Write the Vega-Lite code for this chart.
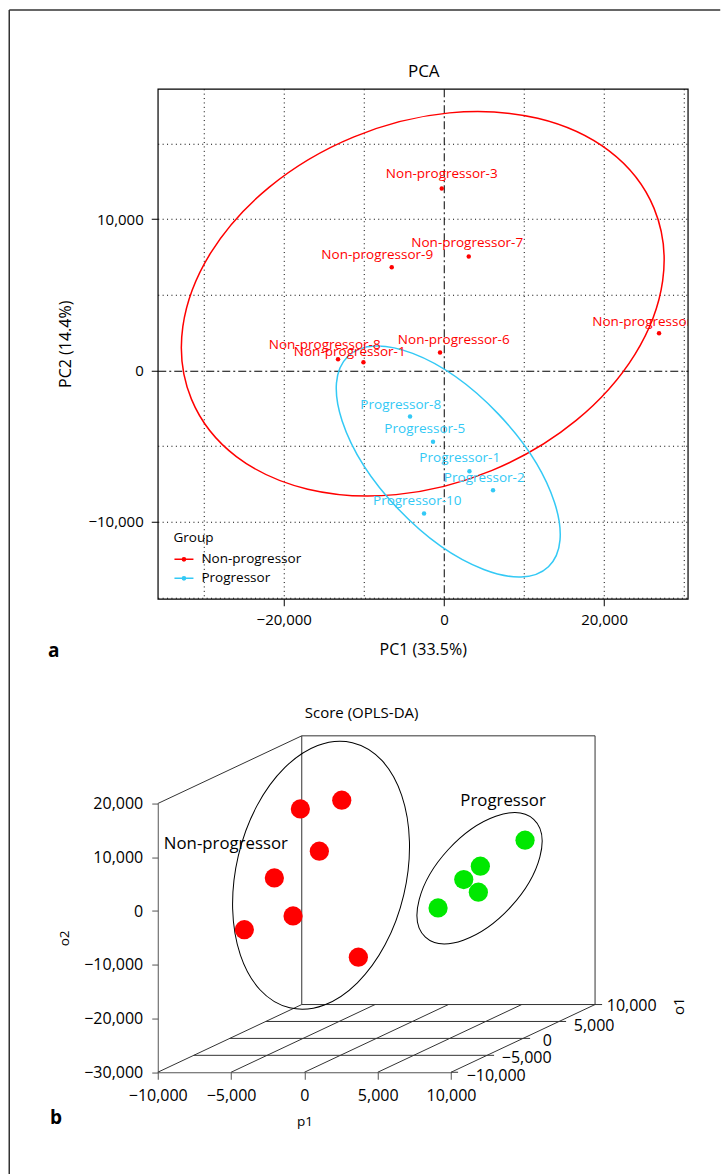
{
  "$schema": "https://vega.github.io/schema/vega-lite/v6.json",
  "background": "white",
  "padding": {"left": 7.75, "top": 7.75, "right": 0, "bottom": 0},
  "bounds": "flush",
  "spacing": 204.8,
  "resolve": {"scale": {"x": "independent", "y": "independent", "color": "independent"}},
  "config": {
    "font": "Open Sans",
    "view": {"stroke": null},
    "axis": {"labelColor": "#000", "titleColor": "#000", "titleFontWeight": "normal", "labelFont": "Open Sans", "titleFont": "Open Sans"},
    "legend": {"labelFont": "Open Sans", "titleFont": "Open Sans"}
  },
  "vconcat": [
    {
      "width": 530,
      "height": 510,
      "view": {"stroke": "#000", "strokeWidth": 1.2},
      "encoding": {
        "x": {"field": "x", "type": "quantitative", "scale": {"domain": [-35730, 30440], "nice": false, "zero": false},
          "axis": {"title": "PC1 (33.5%)", "values": [-30000, -20000, -10000, 0, 10000, 20000, 30000],
            "labelExpr": "datum.value % 20000 === 0 ? format(datum.value, ',') : ''",
            "tickOpacity": {"condition": {"test": "datum.value % 20000 === 0", "value": 1}, "value": 0},
            "grid": true, "gridColor": "#000", "gridOpacity": 1, "gridWidth": 1,
            "gridDash": {"condition": {"test": "datum.value === 0", "value": [8, 3, 2, 3]}, "value": [1, 3.4]},
            "domain": false, "tickColor": "#000", "tickSize": 7, "labelFontSize": 15, "labelPadding": 7,
            "labelFlush": false, "labelOverlap": false, "titleFontSize": 16, "titlePadding": 14}},
        "y": {"field": "y", "type": "quantitative", "scale": {"domain": [-15090, 18620], "nice": false, "zero": false},
          "axis": {"title": "PC2 (14.4%)", "values": [-15000, -10000, -5000, 0, 5000, 10000, 15000],
            "labelExpr": "datum.value % 10000 === 0 ? format(datum.value, ',') : ''",
            "tickOpacity": {"condition": {"test": "datum.value % 10000 === 0", "value": 1}, "value": 0},
            "grid": true, "gridColor": "#000", "gridOpacity": 1, "gridWidth": 1,
            "gridDash": {"condition": {"test": "datum.value === 0", "value": [8, 3, 2, 3]}, "value": [1, 3.4]},
            "domain": false, "tickColor": "#000", "tickSize": 6.5, "labelFontSize": 15, "labelPadding": 8,
            "labelOverlap": false, "titleFontSize": 16, "titlePadding": 14}}
      },
      "layer": [
        {
          "data": {"values": [{"group": "Non-progressor", "x": -2646, "y": 4409}]},
          "mark": {"type": "point", "shape": "M1,0C1,0.3984,0.5523,0.7214,0,0.7214C-0.5523,0.7214,-1,0.3984,-1,0C-1,-0.3984,-0.5523,-0.7214,0,-0.7214C0.5523,-0.7214,1,-0.3984,1,0Z", "size": 250400, "angle": -22.4, "filled": false, "strokeWidth": 1.5, "opacity": 1},
          "encoding": {
            "color": {"field": "group", "type": "nominal",
              "scale": {"domain": ["Non-progressor", "Progressor"], "range": ["#ff0000", "#33c9f5"]},
              "legend": {"title": "Group", "orient": "none", "legendX": 10.7, "legendY": 437.6, "padding": 5,
                "symbolType": "M-1,0L1,0M0.168,0C0.168,0.0928,0.0928,0.168,0,0.168C-0.0928,0.168,-0.168,0.0928,-0.168,0C-0.168,-0.0928,-0.0928,-0.168,0,-0.168C0.0928,-0.168,0.168,-0.0928,0.168,0Z",
                "symbolSize": 361, "symbolStrokeWidth": 1.5, "labelFontSize": 13.5, "titleFontSize": 13.5,
                "titleFontWeight": "normal", "titlePadding": 4, "labelOffset": 7, "rowPadding": 2,
                "labelColor": "#000", "titleColor": "#000"}}
          }
        },
        {
          "data": {"values": [{"group": "Progressor", "x": 538, "y": -6015}]},
          "mark": {"type": "point", "shape": "M1,0C1,0.2623,0.5523,0.4749,0,0.4749C-0.5523,0.4749,-1,0.2623,-1,0C-1,-0.2623,-0.5523,-0.4749,0,-0.4749C0.5523,-0.4749,1,-0.2623,1,0Z", "size": 84450, "angle": 46.4, "filled": false, "strokeWidth": 1.5, "opacity": 1},
          "encoding": {
            "color": {"field": "group", "type": "nominal", "scale": {"domain": ["Non-progressor", "Progressor"], "range": ["#ff0000", "#33c9f5"]}, "legend": null}
          }
        },
        {
          "data": {"values": [
            {"group": "Non-progressor", "name": "Non-progressor-3", "x": -273, "y": 12030},
            {"group": "Non-progressor", "name": "Non-progressor-7", "x": 3098, "y": 7535},
            {"group": "Non-progressor", "name": "Non-progressor-9", "x": -6517, "y": 6828},
            {"group": "Non-progressor", "name": "Non-progressor-6", "x": -486, "y": 1190},
            {"group": "Non-progressor", "name": "Non-progressor-8", "x": -13221, "y": 747},
            {"group": "Non-progressor", "name": "Non-progressor-1", "x": -10049, "y": 549},
            {"group": "Non-progressor", "name": "Non-progressor-4", "x": 26856, "y": 2465},
            {"group": "Progressor", "name": "Progressor-8", "x": -4231, "y": -3040},
            {"group": "Progressor", "name": "Progressor-5", "x": -1360, "y": -4713},
            {"group": "Progressor", "name": "Progressor-1", "x": 3185, "y": -6656},
            {"group": "Progressor", "name": "Progressor-2", "x": 6131, "y": -7912},
            {"group": "Progressor", "name": "Progressor-10", "x": -2483, "y": -9452}
          ]},
          "mark": {"type": "point", "shape": "circle", "size": 20, "filled": true, "opacity": 1},
          "encoding": {
            "color": {"field": "group", "type": "nominal", "scale": {"domain": ["Non-progressor", "Progressor"], "range": ["#ff0000", "#33c9f5"]}, "legend": null}
          }
        },
        {
          "data": {"values": [
            {"group": "Non-progressor", "name": "Non-progressor-3", "x": -273, "y": 12955},
            {"group": "Non-progressor", "name": "Non-progressor-7", "x": 2907, "y": 8394},
            {"group": "Non-progressor", "name": "Non-progressor-9", "x": -8326, "y": 7601},
            {"group": "Non-progressor", "name": "Non-progressor-6", "x": 1225, "y": 1983},
            {"group": "Non-progressor", "name": "Non-progressor-8", "x": -14881, "y": 1652},
            {"group": "Non-progressor", "name": "Non-progressor-1", "x": -11760, "y": 1190},
            {"group": "Non-progressor", "name": "Non-progressor-4", "x": 25507, "y": 3193},
            {"group": "Progressor", "name": "Progressor-8", "x": -5392, "y": -2313},
            {"group": "Progressor", "name": "Progressor-5", "x": -2396, "y": -3900},
            {"group": "Progressor", "name": "Progressor-1", "x": 1974, "y": -5817},
            {"group": "Progressor", "name": "Progressor-2", "x": 5033, "y": -7139},
            {"group": "Progressor", "name": "Progressor-10", "x": -3333, "y": -8659}
          ]},
          "mark": {"type": "text", "fontSize": 13.5, "align": "center", "baseline": "middle", "clip": true},
          "encoding": {
            "text": {"field": "name"},
            "color": {"field": "group", "type": "nominal", "scale": {"domain": ["Non-progressor", "Progressor"], "range": ["#ff0000", "#33c9f5"]}, "legend": null}
          }
        },
        {
          "data": {"values": [
            {"x": -54270, "y": 23829, "x2": -54270, "y2": -53110},
            {"x": -54270, "y": 23829, "x2": 34497, "y2": 23829}
          ]},
          "mark": {"type": "rule", "color": "#333", "strokeWidth": 1.5},
          "encoding": {
            "x2": {"field": "x2"},
            "y2": {"field": "y2"}
          }
        },
        {
          "data": {"values": [{"t": "PCA", "x": -2521, "y": 19697}]},
          "mark": {"type": "text", "fontSize": 17, "align": "center", "baseline": "middle", "color": "#000"},
          "encoding": {"text": {"field": "t"}}
        },
        {
          "data": {"values": [{"t": "a", "x": -48714, "y": -18574}]},
          "mark": {"type": "text", "fontSize": 19, "fontWeight": "bold", "align": "center", "baseline": "middle", "color": "#000"},
          "encoding": {"text": {"field": "t"}}
        }
      ]
    },
    {
      "width": 293.3,
      "height": 268.7,
      "encoding": {
        "x": {"field": "x", "type": "quantitative", "scale": {"domain": [-10000, 10000], "nice": false, "zero": false},
          "axis": {"title": "p1", "values": [-10000, -5000, 0, 5000, 10000], "labelExpr": "format(datum.value, ',')", "grid": false,
            "domainColor": "#555", "tickColor": "#555", "tickSize": 7, "labelFontSize": 16, "labelPadding": 8,
            "labelFlush": false, "labelOverlap": false, "titleFontSize": 13.5, "titlePadding": 11}},
        "y": {"field": "y", "type": "quantitative", "scale": {"domain": [-30000, 20000], "nice": false, "zero": false},
          "axis": {"title": "o2", "values": [-30000, -20000, -10000, 0, 10000, 20000], "labelExpr": "format(datum.value, ',')", "grid": false,
            "domainColor": "#555", "tickColor": "#555", "tickSize": 6, "labelFontSize": 16, "labelPadding": 9,
            "labelFlush": false, "labelOverlap": false, "titleFontSize": 13.5, "titlePadding": 12}}
      },
      "layer": [
        {
          "data": {"values": [
            {"x": -10000, "y": 20000, "x2": -180, "y2": 32600},
            {"x": -180, "y": 32600, "x2": 19820, "y2": 32600},
            {"x": -180, "y": 32600, "x2": -180, "y2": -17400},
            {"x": 19820, "y": 32600, "x2": 19820, "y2": -17400},
            {"x": -180, "y": -17400, "x2": 20300, "y2": -17400},
            {"x": -2635, "y": -20550, "x2": 17845, "y2": -20550},
            {"x": -5090, "y": -23700, "x2": 15390, "y2": -23700},
            {"x": -7545, "y": -26850, "x2": 12935, "y2": -26850},
            {"x": 10000, "y": -30000, "x2": 10480, "y2": -30000},
            {"x": -10000, "y": -30000, "x2": -180, "y2": -17400},
            {"x": -5000, "y": -30000, "x2": 4820, "y2": -17400},
            {"x": 0, "y": -30000, "x2": 9820, "y2": -17400},
            {"x": 5000, "y": -30000, "x2": 14820, "y2": -17400},
            {"x": 10000, "y": -30000, "x2": 19820, "y2": -17400}
          ]},
          "mark": {"type": "rule", "color": "#333", "strokeWidth": 1},
          "encoding": {
            "x2": {"field": "x2"},
            "y2": {"field": "y2"}
          }
        },
        {
          "data": {"values": [{"group": "Non-progressor", "x": 1135, "y": 6662}]},
          "mark": {"type": "point", "shape": "M1,0C1,0.3446,0.5523,0.624,0,0.624C-0.5523,0.624,-1,0.3446,-1,0C-1,-0.3446,-0.5523,-0.624,0,-0.624C0.5523,-0.624,1,-0.3446,1,0Z", "size": 74200, "angle": -76.7, "filled": false, "stroke": "#000", "strokeWidth": 1, "opacity": 1}
        },
        {
          "data": {"values": [{"group": "Progressor", "x": 11943, "y": 6103}]},
          "mark": {"type": "point", "shape": "M1,0C1,0.2927,0.5523,0.53,0,0.53C-0.5523,0.53,-1,0.2927,-1,0C-1,-0.2927,-0.5523,-0.53,0,-0.53C0.5523,-0.53,1,-0.2927,1,0Z", "size": 25600, "angle": -47.4, "filled": false, "stroke": "#000", "strokeWidth": 1, "opacity": 1}
        },
        {
          "data": {"values": [
            {"group": "Non-progressor", "x": -276, "y": 18999},
            {"group": "Non-progressor", "x": 2547, "y": 20618},
            {"group": "Non-progressor", "x": 1019, "y": 11128},
            {"group": "Non-progressor", "x": -2049, "y": 6159},
            {"group": "Non-progressor", "x": -774, "y": -912},
            {"group": "Non-progressor", "x": -4095, "y": -3480},
            {"group": "Non-progressor", "x": 3679, "y": -8597},
            {"group": "Progressor", "x": 15046, "y": 13175},
            {"group": "Progressor", "x": 11998, "y": 8337},
            {"group": "Progressor", "x": 10866, "y": 5862},
            {"group": "Progressor", "x": 11862, "y": 3498},
            {"group": "Progressor", "x": 9114, "y": 577}
          ]},
          "mark": {"type": "point", "shape": "circle", "size": 370, "filled": true, "opacity": 1},
          "encoding": {
            "color": {"field": "group", "type": "nominal", "scale": {"domain": ["Non-progressor", "Progressor"], "range": ["#ff0000", "#00e800"]}, "legend": null}
          }
        },
        {
          "data": {"values": [
            {"t": "Non-progressor", "x": -5357, "y": 12561},
            {"t": "Progressor", "x": 13546, "y": 20562}
          ]},
          "mark": {"type": "text", "fontSize": 16.8, "align": "center", "baseline": "middle", "color": "#000"},
          "encoding": {"text": {"field": "t"}}
        },
        {
          "data": {"values": [
            {"t": "10,000", "x": 20617, "y": -17715},
            {"t": "5,000", "x": 18367, "y": -21307},
            {"t": "0", "x": 16253, "y": -24228},
            {"t": "−5,000", "x": 13457, "y": -27335},
            {"t": "−10,000", "x": 11064, "y": -30740}
          ]},
          "mark": {"type": "text", "fontSize": 16, "align": "left", "baseline": "middle", "color": "#000"},
          "encoding": {"text": {"field": "t"}}
        },
        {
          "data": {"values": [{"t": "o1", "x": 25527, "y": -17715}]},
          "mark": {"type": "text", "fontSize": 15, "align": "center", "baseline": "middle", "angle": 270, "color": "#000"},
          "encoding": {"text": {"field": "t"}}
        },
        {
          "data": {"values": [{"t": "Score (OPLS-DA)", "x": 3900, "y": 36807}]},
          "mark": {"type": "text", "fontSize": 15, "align": "center", "baseline": "middle", "color": "#000"},
          "encoding": {"text": {"field": "t"}}
        },
        {
          "data": {"values": [{"t": "b", "x": -16935, "y": -38556}]},
          "mark": {"type": "text", "fontSize": 19, "fontWeight": "bold", "align": "center", "baseline": "middle", "color": "#000"},
          "encoding": {"text": {"field": "t"}}
        }
      ]
    }
  ]
}
